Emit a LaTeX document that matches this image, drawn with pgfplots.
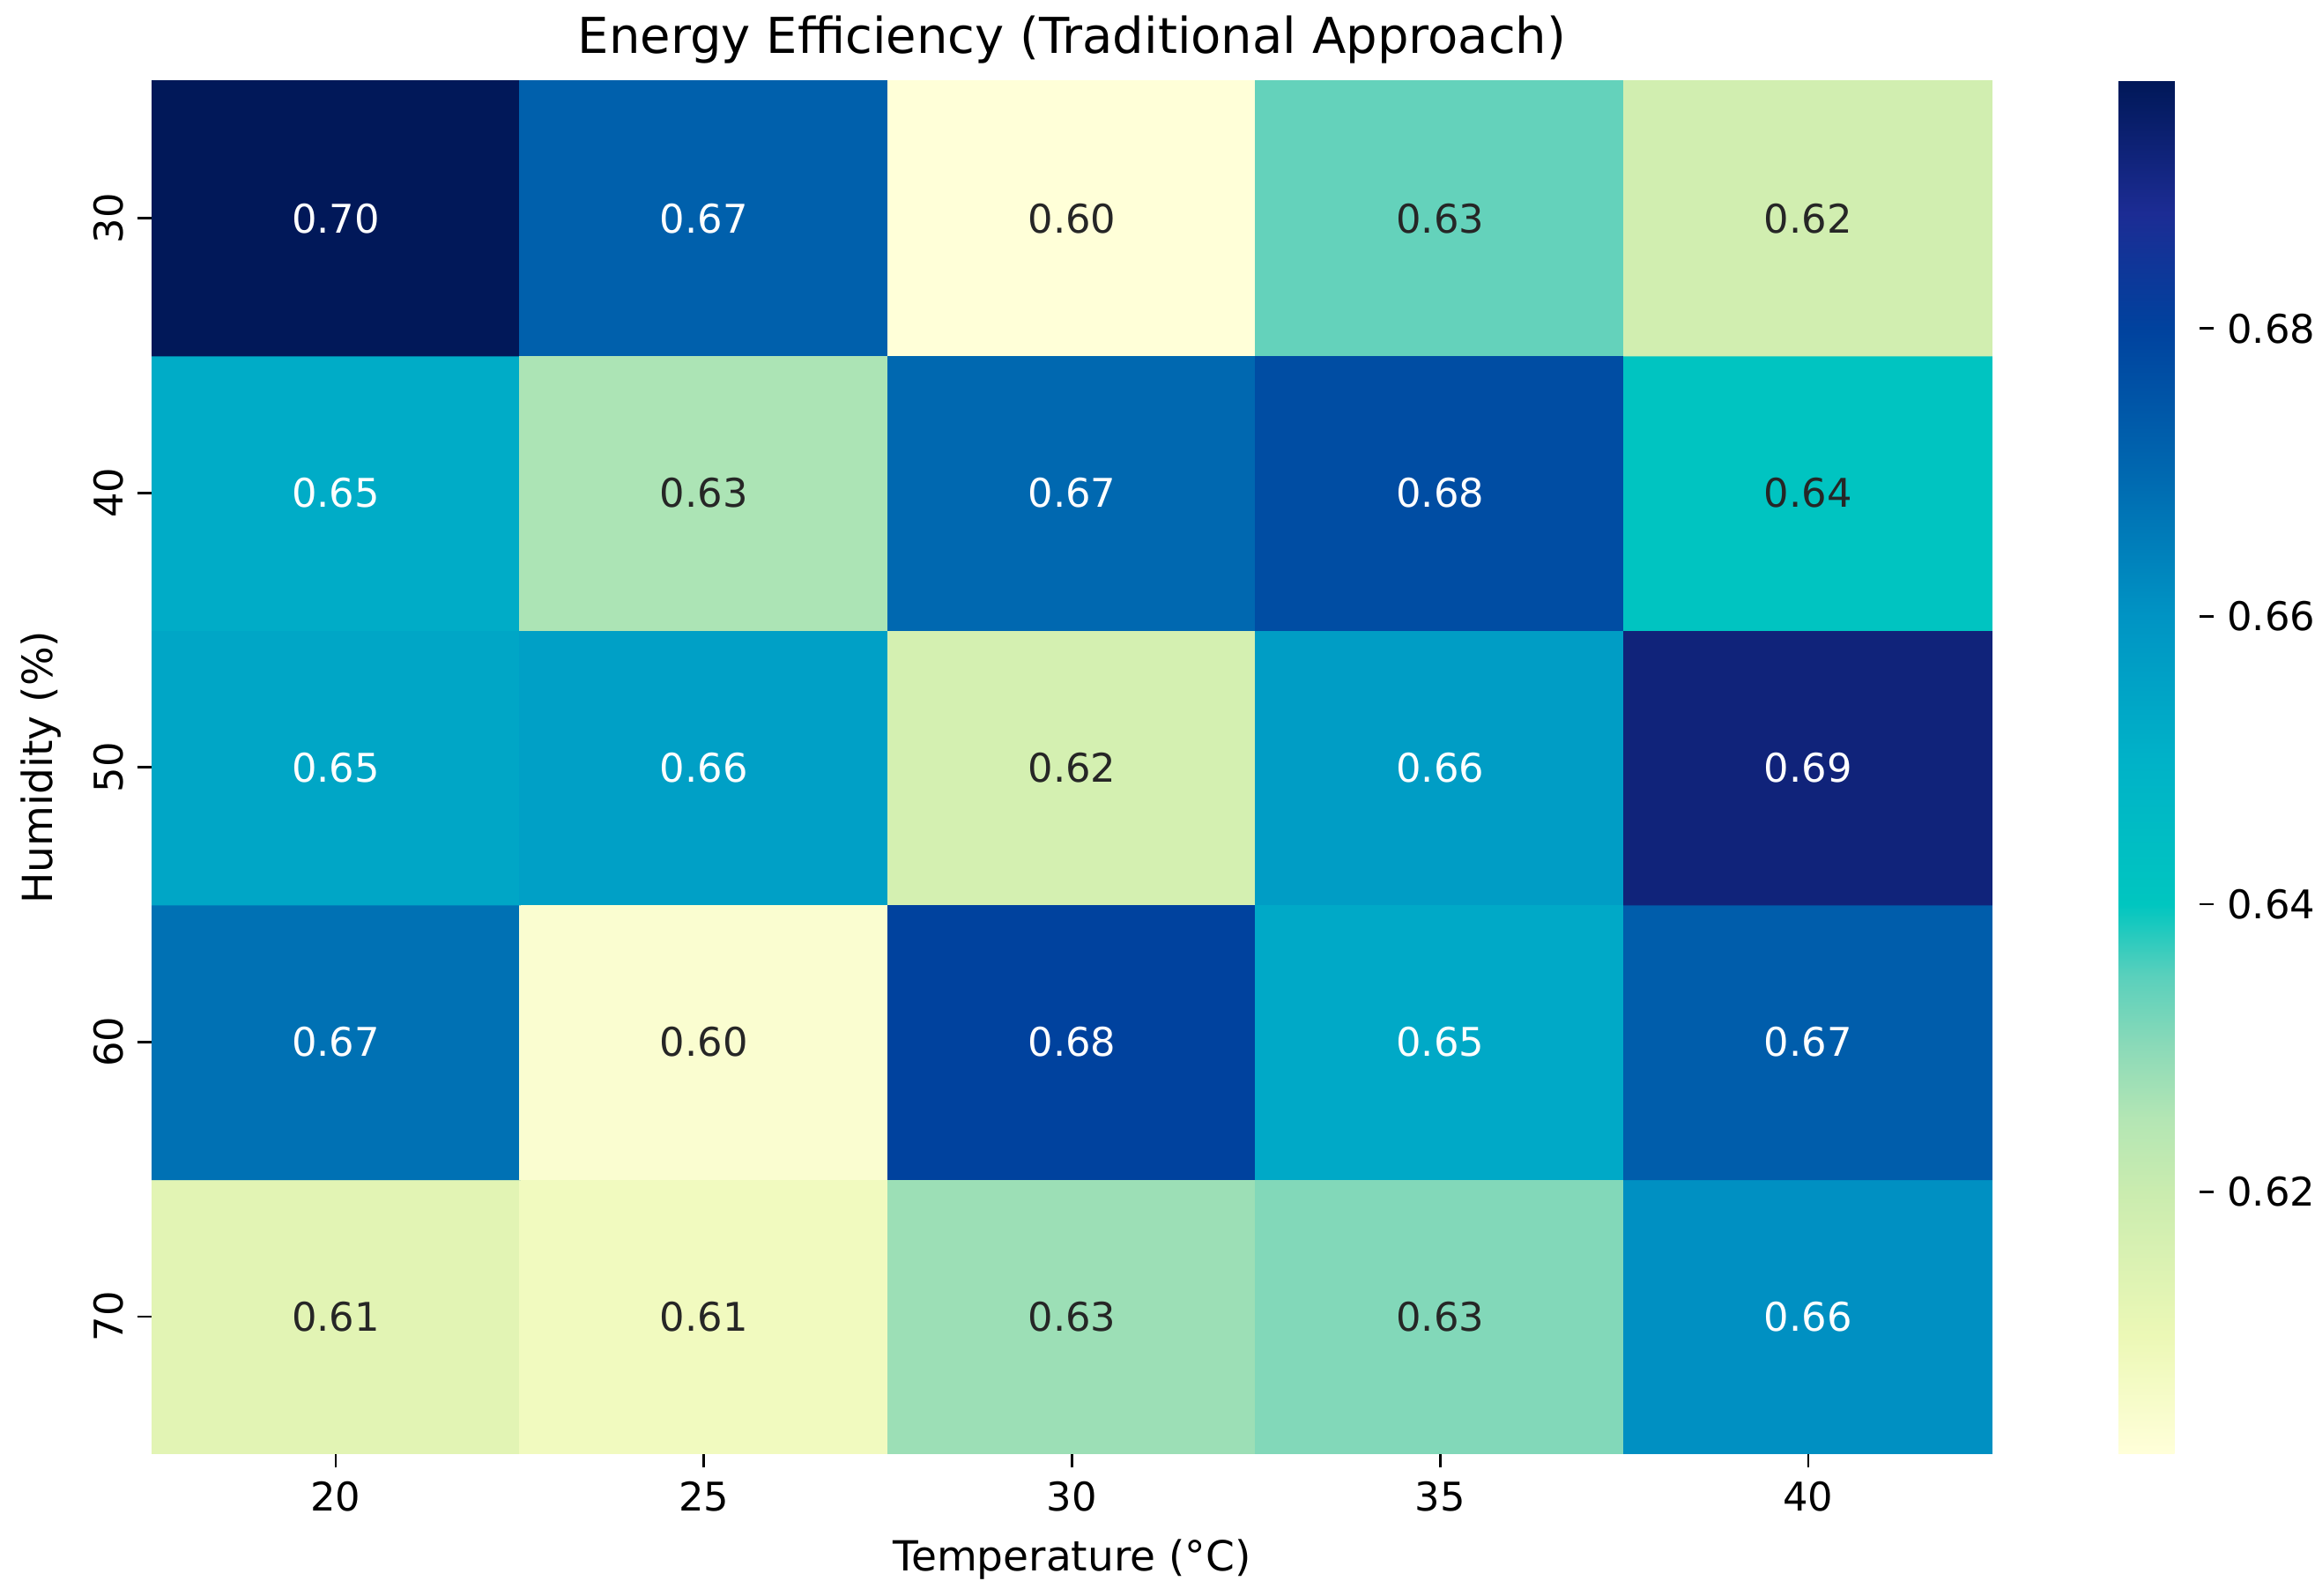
\documentclass[border=0pt]{standalone}
\usepackage{pgfplots}
\pgfplotsset{compat=1.18}
\usepackage{fontspec}
\setmainfont{DejaVu Sans}
\definecolor{txtdark}{HTML}{262626}
\pgfkeys{/pgf/number format/assume math mode=true}
\pgfplotsset{
  colormap={ylgnbu}{
    rgb255(0pt)=(255,255,217);
    rgb255(82pt)=(236,248,182);
    rgb255(182pt)=(202,236,175);
    rgb255(232pt)=(180,230,180);
    rgb255(282pt)=(140,218,184);
    rgb255(332pt)=(90,208,188);
    rgb255(382pt)=(0,198,192);
    rgb255(482pt)=(0,178,200);
    rgb255(582pt)=(0,148,196);
    rgb255(682pt)=(0,104,176);
    rgb255(782pt)=(0,66,158);
    rgb255(862pt)=(28,44,148);
    rgb255(954pt)=(0,24,88)
  }
}
\pgfplotstableread{
x y v
0 0 0.613
1 0 0.608
2 0 0.628
3 0 0.631
4 0 0.661
0 1 0.668
1 1 0.604
2 1 0.680
3 1 0.653
4 1 0.673
0 2 0.654
1 2 0.656
2 2 0.617
3 2 0.657
4 2 0.692
0 3 0.652
1 3 0.626
2 3 0.670
3 3 0.677
4 3 0.641
0 4 0.697
1 4 0.672
2 4 0.602
3 4 0.634
4 4 0.618
}\heat
\pgfplotstableread{
x y l
4 0 0.66
0 1 0.67
2 1 0.68
3 1 0.65
4 1 0.67
0 2 0.65
1 2 0.66
3 2 0.66
4 2 0.69
0 3 0.65
2 3 0.67
3 3 0.68
0 4 0.70
1 4 0.67
}\lightlabels
\pgfplotstableread{
x y l
0 0 0.61
1 0 0.61
2 0 0.63
3 0 0.63
1 1 0.60
2 2 0.62
1 3 0.63
4 3 0.64
2 4 0.60
3 4 0.63
4 4 0.62
}\darklabels
\begin{document}
\begin{tikzpicture}
\begin{axis}[
  name=ax,
  scale only axis,
  width=465.9pt, height=347.5pt,
  xmin=-0.5, xmax=4.5, ymin=-0.5, ymax=4.5,
  enlargelimits=false,
  axis line style={draw=none},
  tick align=outside,
  xtick pos=left, ytick pos=left,
  xtick={0,...,4}, xticklabels={20,25,30,35,40},
  ytick={0,...,4}, yticklabels={70,60,50,40,30},
  major tick length=3.5pt,
  tick style={black, line width=0.6pt},
  xticklabel style={font=\fontsize{10}{12}\selectfont},
  yticklabel style={rotate=90, anchor=south, font=\fontsize{10}{12}\selectfont},
  xlabel={Temperature (°C)},
  ylabel={Humidity (\%)},
  every axis x label/.style={at={([yshift=-26.8pt]axis description cs:0.5,0)}, anchor=center, font=\fontsize{10.5}{12}\selectfont},
  every axis y label/.style={at={([xshift=-28pt]axis description cs:0,0.5)}, rotate=90, anchor=center, font=\fontsize{10.5}{12}\selectfont},
  title={Energy Efficiency (Traditional Approach)},
  every axis title/.style={at={([yshift=10.5pt]axis description cs:0.5,1)}, anchor=center, font=\fontsize{12.5}{14}\selectfont},
  colormap name=ylgnbu,
  point meta min=0.6018, point meta max=0.6972,
  colorbar,
  colorbar style={
    scale only axis,
    width=20.5pt, height=347.5pt,
    at={(parent axis.north east)}, anchor=north west, xshift=23.4pt,
    ytick={0.62,0.64,0.66,0.68},
    yticklabel style={/pgf/number format/.cd, fixed, fixed zerofill, precision=2, /tikz/.cd, font=\fontsize{10}{12}\selectfont},
    axis line style={draw=none},
    tick align=outside,
    ytick pos=right,
    major tick length=3.5pt,
    tick style={black, line width=0.6pt},
  },
]
\addplot[matrix plot*, mesh/cols=5, point meta=explicit] table[meta=v] {\heat};
\addplot[only marks, mark=none, nodes near coords, point meta=explicit symbolic,
  every node near coord/.append style={anchor=center, text=white, font=\fontsize{10}{12}\selectfont}]
  table[meta=l] {\lightlabels};
\addplot[only marks, mark=none, nodes near coords, point meta=explicit symbolic,
  every node near coord/.append style={anchor=center, text=txtdark, font=\fontsize{10}{12}\selectfont}]
  table[meta=l] {\darklabels};
\end{axis}
\pgfresetboundingbox
\path ([shift={(-38.4pt,-35.9pt)}]ax.south west) rectangle ([shift={(81.7pt,20.5pt)}]ax.north east);
\end{tikzpicture}
\end{document}
